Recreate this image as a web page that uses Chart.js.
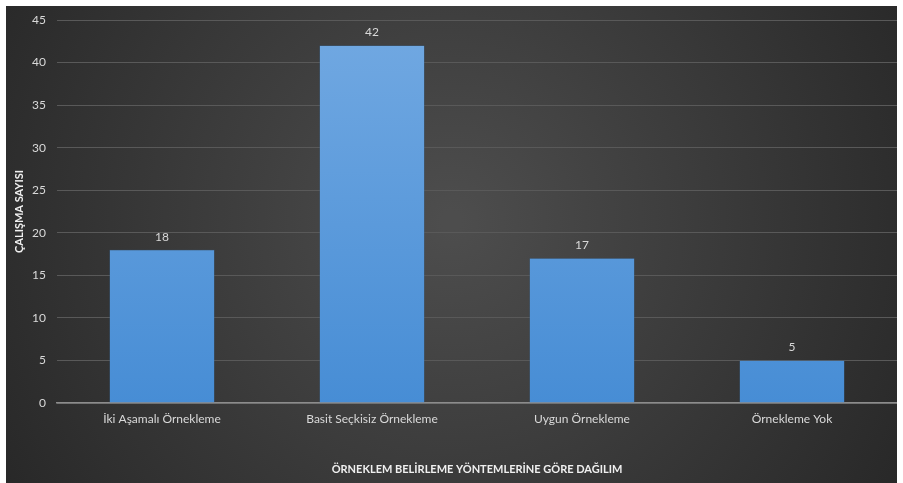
<!DOCTYPE html>
<html>
<head>
<meta charset="utf-8">
<script src="https://cdn.jsdelivr.net/npm/chart.js@4"></script>
<style>
  body { margin: 0; background: #fff; }
  #wrap { position: absolute; left: 6px; top: 6px; width: 891px; height: 477px; }
</style>
</head>
<body>
<div id="wrap"><canvas id="chart"></canvas></div>
<script>
const categories = ['İki Aşamalı Örnekleme', 'Basit Seçkisiz Örnekleme', 'Uygun Örnekleme', 'Örnekleme Yok']
const counts = [18, 42, 17, 5]
const yTicks = [0, 5, 10, 15, 20, 25, 30, 35, 40, 45]

const xTitle = 'ÖRNEKLEM BELİRLEME YÖNTEMLERİNE GÖRE DAĞILIM'
const yTitle = 'ÇALIŞMA SAYISI'
const font = 'Lato'

// dark radial background behind everything
const bgPlugin = {
    id: 'bg',
    beforeDraw(chart) {
        const { ctx, width, height } = chart
        const g = ctx.createRadialGradient(width * 0.5, height * 0.45, 10, width * 0.5, height * 0.45, width * 0.6)
        g.addColorStop(0, '#4d4d4d')
        g.addColorStop(1, '#272727')
        ctx.save()
        ctx.fillStyle = g
        ctx.fillRect(0, 0, width, height)
        ctx.restore()
    }
}

// value labels over the bars
const valuePlugin = {
    id: 'values',
    afterDatasetsDraw(chart) {
        const { ctx } = chart
        const meta = chart.getDatasetMeta(0)
        ctx.save()
        ctx.fillStyle = '#d9d9d9'
        ctx.font = '12px ' + font
        ctx.textAlign = 'center'
        ctx.textBaseline = 'bottom'
        meta.data.forEach((bar, i) => {
            ctx.fillText(chart.data.datasets[0].data[i], bar.x, bar.y - 7)
        })
        ctx.restore()
    }
}

function barFill(context) {
    const { chart } = context
    const area = chart.chartArea
    if (!area) return '#5b9bd5'
    const g = chart.ctx.createLinearGradient(0, area.top, 0, area.bottom)
    g.addColorStop(0, '#72a9e2')
    g.addColorStop(1, '#478dd5')
    return g
}

new Chart(document.querySelector('#chart'), {
    type: 'bar',
    data: {
        labels: categories,
        datasets: [{
            label: yTitle,
            data: counts,
            backgroundColor: barFill,
            borderColor: '#3a74b0',
            borderWidth: 0.5,
            categoryPercentage: 1,
            barPercentage: 0.5
        }]
    },
    options: {
        responsive: true,
        maintainAspectRatio: false,
        animation: false,
        layout: { padding: { top: 14, right: 0, bottom: 2, left: 0 } },
        plugins: {
            legend: { display: false },
            tooltip: { enabled: false }
        },
        scales: {
            x: {
                grid: { display: false, drawTicks: false },
                border: { color: '#8c8c8c', width: 1.5 },
                ticks: { color: '#d9d9d9', font: { family: font, size: 12 }, padding: 9, maxRotation: 0 },
                title: { display: true, text: xTitle, color: '#f0f0f0', font: { family: font, size: 11, weight: 'bold' }, padding: { top: 0, bottom: 5 } },
                afterFit(scale) { scale.height = 78 }
            },
            y: {
                min: 0,
                max: 45,
                afterBuildTicks(scale) { scale.ticks = yTicks.map(v => ({ value: v })) },
                grid: { color: '#595959', drawTicks: true, tickLength: 10, tickColor: 'transparent' },
                border: { display: false },
                ticks: { color: '#d9d9d9', font: { family: font, size: 12 }, padding: 1 },
                title: { display: true, text: yTitle, color: '#f0f0f0', font: { family: font, size: 11, weight: 'bold' }, padding: { top: 7, bottom: 0 } },
                afterFit(scale) { scale.width = 51 }
            }
        }
    },
    plugins: [bgPlugin, valuePlugin]
});
</script>
</body>
</html>
